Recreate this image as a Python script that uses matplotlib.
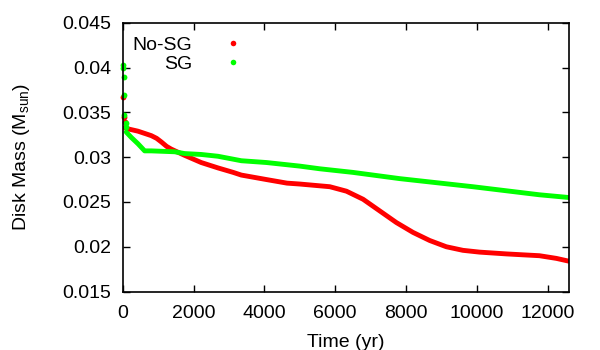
import numpy as np
import matplotlib.pyplot as plt

plt.rcParams['font.family'] = ['Liberation Sans', 'DejaVu Sans']

# early transient points near t=0
nosg_t0 = [20, 30, 60]
nosg_m0 = [0.0367, 0.0345, 0.0339]
sg_t0 = [0, 10, 30, 40, 50, 80, 100]
sg_m0 = [0.0403, 0.0399, 0.0389, 0.0369, 0.0347, 0.0338, 0.0334]

# main evolution
nosg_t = [60, 100, 430, 808, 958, 1090, 1241, 1370, 1750, 2217, 2690, 3120,
          3350, 4060, 4640, 5000, 5850, 6320, 6790, 7260, 7730, 8200, 8670,
          9140, 9610, 10080, 10840, 11300, 11770, 12250, 12590]
nosg_m = [0.0333, 0.0332, 0.0329, 0.0324, 0.0321, 0.0317, 0.0312, 0.0309,
          0.0302, 0.0294, 0.0288, 0.0283, 0.0280, 0.0275, 0.0271, 0.0270,
          0.0267, 0.0262, 0.0253, 0.0240, 0.0227, 0.0216, 0.0207, 0.0200,
          0.0196, 0.0194, 0.0192, 0.0191, 0.0190, 0.0187, 0.0184]

sg_t = [100, 243, 430, 620, 808, 1466, 1750, 2217, 2690, 3350, 4060, 5000,
        5570, 6500, 7830, 9890, 11770, 12590]
sg_m = [0.0328, 0.0322, 0.0315, 0.0307, 0.0307, 0.0306, 0.0304, 0.0303,
        0.0301, 0.0296, 0.0294, 0.0290, 0.0287, 0.0283, 0.0276, 0.0267,
        0.0258, 0.0255]

red = '#ff0000'
green = '#00ff00'
fs = 14

fig = plt.figure(figsize=(6, 3.5), dpi=100)
ax = fig.add_axes([0.2045, 0.167, 0.7435, 0.768])

ax.plot(nosg_t, nosg_m, color=red, lw=3.5, solid_capstyle='round')
ax.plot(nosg_t0, nosg_m0, 'o', color=red, ms=4.2, mew=0, clip_on=False)
ax.plot(sg_t, sg_m, color=green, lw=3.5, solid_capstyle='round')
ax.plot(sg_t0, sg_m0, 'o', color=green, ms=4.2, mew=0, clip_on=False)

# legend handles
ax.plot([], [], 'o', color=red, ms=4, mew=0, label='No-SG')
ax.plot([], [], 'o', color=green, ms=4, mew=0, label='SG')
h, l = ax.get_legend_handles_labels()
ax.legend(h[-2:], l[-2:], loc='upper left', markerfirst=False, frameon=False,
          fontsize=fs, handlelength=1.6, handletextpad=1.3, labelspacing=0.08,
          borderaxespad=0.0, bbox_to_anchor=(0.005, 0.98))

ax.set_xlim(0, 12600)
ax.set_ylim(0.015, 0.045)
ax.set_xticks(np.arange(0, 12001, 2000))
ax.set_yticks([0.015, 0.02, 0.025, 0.03, 0.035, 0.04, 0.045])
ax.set_yticklabels(['0.015', '0.02', '0.025', '0.03', '0.035', '0.04', '0.045'])
ax.tick_params(direction='in', length=5, width=1, top=True, right=True,
               labelsize=fs)
ax.tick_params(axis='x', pad=10)
ax.tick_params(axis='y', pad=8)
for s in ax.spines.values():
    s.set_linewidth(1.2)

ax.set_xlabel('Time (yr)', fontsize=fs, labelpad=8)
ax.set_ylabel('Disk Mass (M$_\\mathregular{sun}$)', fontsize=fs, labelpad=22)

fig.savefig('out.png', dpi=100)
